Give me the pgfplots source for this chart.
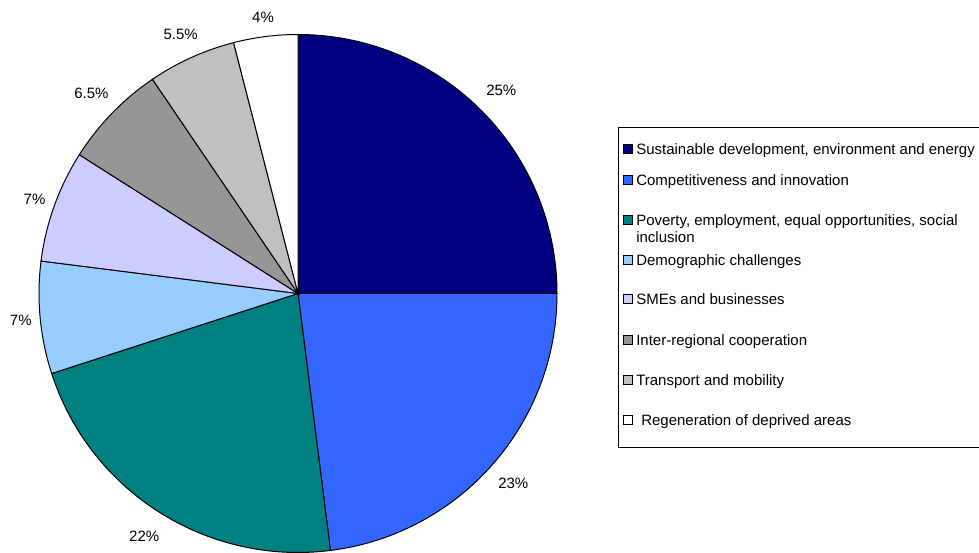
\documentclass[border=0pt]{standalone}
\usepackage{pgfplots}
\pgfplotsset{compat=1.18}
\usepackage{pgfplotstable}
\usepackage{fontspec}
\setmainfont{Liberation Sans}

\definecolor{c1}{HTML}{000080}
\definecolor{c2}{HTML}{3366FF}
\definecolor{c3}{HTML}{008080}
\definecolor{c4}{HTML}{99CCFF}
\definecolor{c5}{HTML}{CCCCFF}
\definecolor{c6}{HTML}{969696}
\definecolor{c7}{HTML}{C0C0C0}
\definecolor{c8}{HTML}{FFFFFF}

\newcommand\lbl{\fontsize{11.25}{13.5}\selectfont}

% share in percent, slice colour, label distance from centre (px)
\pgfplotstableread{
pct col ld
25  c1  287.5
23  c2  287
22  c3  287
7   c4  278.5
7   c5  280
6.5 c6  287.6
5.5 c7  285
4   c8  279
}\piedata

\begin{document}
\begin{tikzpicture}
\begin{axis}[
    scale only axis,
    width=734.25pt, height=414.75pt,
    xmin=0, xmax=979, ymin=0, ymax=553,
    hide axis,
    clip=false]

\def\cum{0}
\pgfplotsforeachungrouped \i in {0,...,7}{%
    \pgfplotstablegetelem{\i}{pct}\of\piedata \let\p\pgfplotsretval
    \pgfplotstablegetelem{\i}{col}\of\piedata \let\c\pgfplotsretval
    \pgfplotstablegetelem{\i}{ld}\of\piedata \let\ld\pgfplotsretval
    \pgfmathsetmacro\sa{90-3.6*\cum}
    \pgfmathsetmacro\ea{90-3.6*(\cum+\p)}
    \pgfmathsetmacro\ma{(\sa+\ea)/2}
    \pgfmathsetmacro\sx{298+259*cos(\sa)}
    \pgfmathsetmacro\sy{259.5+259*sin(\sa)}
    \pgfmathsetmacro\lx{298+\ld*cos(\ma)}
    \pgfmathsetmacro\ly{259.5+\ld*sin(\ma)-5.4}
    \edef\temp{%
        \noexpand\filldraw[fill=\c, draw=black, line width=0.75pt]
            (axis cs:298,259.5) -- (axis cs:\sx,\sy)
            arc[start angle=\sa, end angle=\ea, radius=194.25pt] -- cycle;
        \noexpand\node[font=\noexpand\lbl, anchor=base, inner sep=0pt]
            at (axis cs:\lx,\ly) {\p\noexpand\%};
    }
    \temp
    \pgfmathsetmacro\cum{\cum+\p}
}

% legend box (right side runs off the picture)
\draw[black, line width=0.75pt] (axis cs:985,425) -- (axis cs:618,425)
    -- (axis cs:618,105) -- (axis cs:985,105);

\filldraw[fill=c1, line width=0.75pt] (axis cs:623,399.5) rectangle (axis cs:632,408.5);
\node[font=\lbl, anchor=base west, inner sep=0pt] at (axis cs:636,398.6) {Sustainable development, environment and energy};
\filldraw[fill=c2, line width=0.75pt] (axis cs:623,368.5) rectangle (axis cs:632,377.5);
\node[font=\lbl, anchor=base west, inner sep=0pt] at (axis cs:636,367.6) {Competitiveness and innovation};
\filldraw[fill=c3, line width=0.75pt] (axis cs:623,328.5) rectangle (axis cs:632,337.5);
\node[font=\lbl, anchor=base west, inner sep=0pt] at (axis cs:636,327.6) {Poverty, employment, equal opportunities, social};
\node[font=\lbl, anchor=base west, inner sep=0pt] at (axis cs:636,310.6) {inclusion};
\filldraw[fill=c4, line width=0.75pt] (axis cs:623,288.5) rectangle (axis cs:632,297.5);
\node[font=\lbl, anchor=base west, inner sep=0pt] at (axis cs:636,287.6) {Demographic challenges};
\filldraw[fill=c5, line width=0.75pt] (axis cs:623,249.5) rectangle (axis cs:632,258.5);
\node[font=\lbl, anchor=base west, inner sep=0pt] at (axis cs:636,248.6) {SMEs and businesses};
\filldraw[fill=c6, line width=0.75pt] (axis cs:623,208.5) rectangle (axis cs:632,217.5);
\node[font=\lbl, anchor=base west, inner sep=0pt] at (axis cs:636,207.6) {Inter-regional cooperation};
\filldraw[fill=c7, line width=0.75pt] (axis cs:623,168.5) rectangle (axis cs:632,177.5);
\node[font=\lbl, anchor=base west, inner sep=0pt] at (axis cs:636,167.6) {Transport and mobility};
\filldraw[fill=c8, line width=0.75pt] (axis cs:623,128.5) rectangle (axis cs:632,137.5);
\node[font=\lbl, anchor=base west, inner sep=0pt] at (axis cs:641,127.6) {Regeneration of deprived areas};
\end{axis}
\pgfresetboundingbox
\path (current axis.south west) rectangle (current axis.north east);
\end{tikzpicture}
\end{document}
